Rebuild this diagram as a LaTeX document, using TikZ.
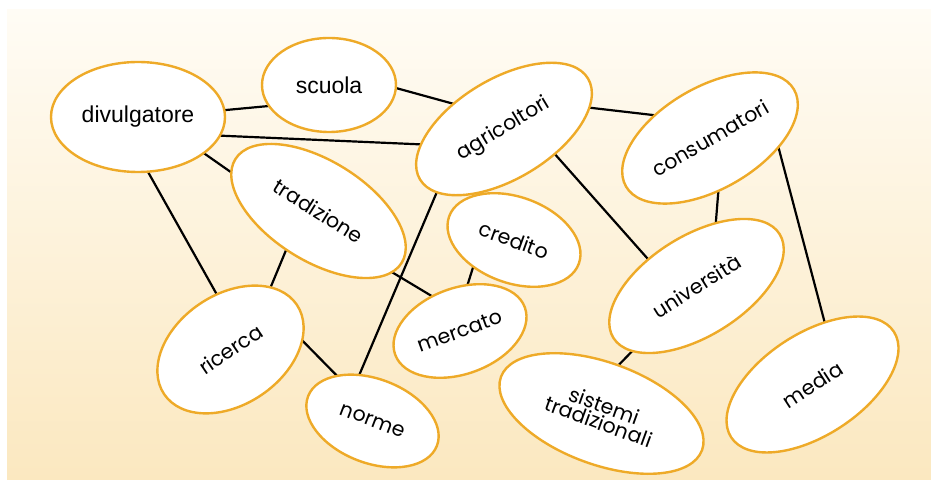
\documentclass[tikz,border=0pt]{standalone}
\usepackage{fontspec}
\newfontfamily\arialf{Liberation Sans}
\newfontfamily\gothf{Poppins}
\usetikzlibrary{shapes.geometric,backgrounds}
\definecolor{bordo}{RGB}{238,170,40}
\definecolor{bgtop}{RGB}{255,252,245}
\definecolor{bgbot}{RGB}{251,232,192}
\tikzset{
  oval/.style={ellipse, draw=bordo, line width=2.4pt, fill=white, inner sep=0pt, align=center},
  conn/.style={line width=2.2pt, black},
}
\begin{document}
\begin{tikzpicture}[x=1pt,y=1pt]
\useasboundingbox (0,0) rectangle (931,479);
% nodes (centres in px, y flipped)
\node[oval, minimum width=174pt, minimum height=110pt, font=\arialf\fontsize{23}{25}\selectfont] (dv) at (138,362) {divulgatore};
\node[oval, minimum width=134pt, minimum height=94pt, font=\arialf\fontsize{23}{25}\selectfont] (sc) at (329,394) {scuola};
\node[oval, minimum width=196pt, minimum height=100pt, rotate=31, font=\gothf\fontsize{20.5}{22}\selectfont] (ag) at (504,350) {agricoltori};
\node[oval, minimum width=194pt, minimum height=102pt, rotate=30, font=\gothf\fontsize{20.5}{22}\selectfont] (co) at (710,341) {consumatori};
\node[oval, minimum width=196pt, minimum height=100pt, rotate=-32, font=\gothf\fontsize{20.5}{22}\selectfont] (tr) at (318.5,268) {tradizione};
\node[oval, minimum width=138pt, minimum height=86pt, rotate=-20, font=\gothf\fontsize{20.5}{22}\selectfont] (cr) at (514,239) {credito};
\node[oval, minimum width=160pt, minimum height=110pt, rotate=34, font=\gothf\fontsize{20.5}{22}\selectfont] (ri) at (230.5,129.5) {ricerca};
\node[oval, minimum width=138pt, minimum height=84pt, rotate=-21, font=\gothf\fontsize{20.5}{22}\selectfont] (no) at (372.5,58) {norme};
\node[oval, minimum width=138pt, minimum height=86pt, rotate=20, font=\gothf\fontsize{20.5}{22}\selectfont] (me) at (460,148) {mercato};
\node[oval, minimum width=196pt, minimum height=100pt, rotate=32, font=\gothf\fontsize{20.5}{22}\selectfont] (un) at (696.5,193) {università};
\node[oval, minimum width=214pt, minimum height=102pt, rotate=-20, font=\gothf\fontsize{20.5}{17}\selectfont] (si) at (601.5,65.5) {sistemi\\tradizionali};
\node[oval, minimum width=194pt, minimum height=102pt, rotate=33, font=\gothf\fontsize{20.5}{22}\selectfont] (md) at (812.5,94.5) {media};
\begin{pgfonlayer}{background}
\shade[top color=bgtop, bottom color=bgbot] (7,0) rectangle (931,469);
\draw[conn] ([shift={(72,5.5)}]dv.center) -- ([shift={(-44,-19.5)}]sc.center);
\draw[conn] ([shift={(67,-18)}]dv.center) -- ([shift={(-69,-16)}]ag.center);
\draw[conn] ([shift={(57,-30)}]dv.center) -- ([shift={(-73.5,29)}]tr.center);
\draw[conn] ([shift={(5,-46)}]dv.center) -- ([shift={(-5.5,40.5)}]ri.center);
\draw[conn] ([shift={(56,0)}]sc.center) -- ([shift={(-39,22)}]ag.center);
\draw[conn] ([shift={(71,23)}]ag.center) -- ([shift={(-40,21)}]co.center);
\draw[conn] ([shift={(41,-14)}]ag.center) -- ([shift={(-41.5,19)}]un.center);
\draw[conn] ([shift={(-62,-51)}]ag.center) -- ([shift={(-17.5,36)}]no.center);
\draw[conn] ([shift={(-29.5,-32)}]tr.center) -- ([shift={(36.5,53.5)}]ri.center);
\draw[conn] ([shift={(61.5,-54)}]tr.center) -- ([shift={(-15,27)}]me.center);
\draw[conn] ([shift={(-38,-18)}]cr.center) -- ([shift={(4,35)}]me.center);
\draw[conn] ([shift={(61.5,19.5)}]ri.center) -- ([shift={(-25.5,35)}]no.center);
\draw[conn] ([shift={(9,-45)}]co.center) -- ([shift={(18.5,53)}]un.center);
\draw[conn] ([shift={(66,0)}]co.center) -- ([shift={(15.5,49.5)}]md.center);
\draw[conn] ([shift={(-53.5,-54)}]un.center) -- ([shift={(8.5,39.5)}]si.center);
\end{pgfonlayer}
\end{tikzpicture}
\end{document}
